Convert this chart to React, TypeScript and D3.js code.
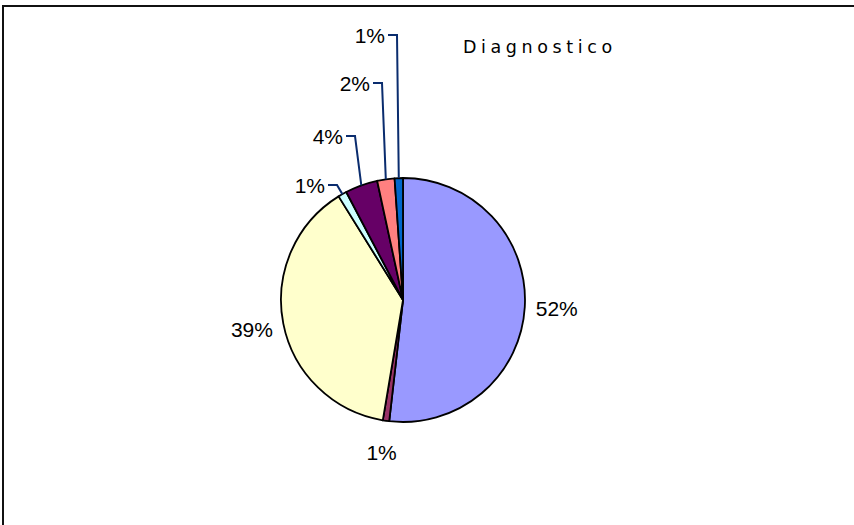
import React from "react";
import * as d3 from "d3";

// Data
const categories = ["A", "B", "C", "D", "E", "F", "G"];
const values = [51.8, 0.85, 38.5, 1.15, 4.3, 2.3, 1.1];
const labels = ["52%", "1%", "39%", "1%", "4%", "2%", "1%"];
const colors = ["#9999FF", "#993366", "#FFFFCC", "#CCFFFF", "#660066", "#FF8080", "#0066CC"];
const title = "Diagnostico";

// Layout (not data): leader-line elbow for small slices, relative to pie center
const leaderElbows: (null | [number, number])[] = [null, null, null, [-66, -115], [-48, -164], [-21, -217], [-6, -265]];

const W = 854;
const H = 525;
const cx = 403;
const cy = 300;
const R = 122;

export default function App() {
  const pie = d3.pie<number>().sort(null).value((d) => d);
  const arcs = pie(values);
  const arcGen = d3.arc<d3.PieArcDatum<number>>().innerRadius(0).outerRadius(R);
  const labelArc = d3.arc<d3.PieArcDatum<number>>().innerRadius(154).outerRadius(154);
  const edgeArc = d3.arc<d3.PieArcDatum<number>>().innerRadius(R).outerRadius(R);

  return (
    <svg width={W} height={H} style={{ position: "absolute", left: 0, top: 0 }}>
      <rect x={0} y={0} width={W} height={H} fill="#fff" />
      <line x1={2} y1={6} x2={W} y2={6} stroke="#111" strokeWidth={2} />
      <line x1={3} y1={5} x2={3} y2={H} stroke="#111" strokeWidth={2} />
      <text x={463} y={53} fontFamily="DejaVu Sans" fontSize={17.5} letterSpacing={4.6} fill="#000">
        {title}
      </text>
      <g transform={`translate(${cx},${cy})`}>
        {arcs.map((a, i) => (
          <path key={categories[i]} d={arcGen(a) || ""} fill={colors[i]} stroke="#000" strokeWidth={1.8} strokeLinejoin="round" />
        ))}
        {arcs.map((a, i) => {
          const el = leaderElbows[i];
          if (!el) {
            const [lx, ly] = labelArc.centroid(a);
            return (
              <text key={"l" + i} x={lx} y={ly} textAnchor="middle" dominantBaseline="central" fontFamily="Liberation Sans, Arial" fontSize={21} fill="#000">
                {labels[i]}
              </text>
            );
          }
          const [ex, ey] = edgeArc.centroid(a);
          return (
            <g key={"l" + i}>
              <polyline points={`${el[0] - 9},${el[1]} ${el[0]},${el[1]} ${ex},${ey}`} fill="none" stroke="#0a2c6e" strokeWidth={2} />
              <text x={el[0] - 12} y={el[1]} textAnchor="end" dominantBaseline="central" fontFamily="Liberation Sans, Arial" fontSize={21} fill="#000">
                {labels[i]}
              </text>
            </g>
          );
        })}
      </g>
    </svg>
  );
}
